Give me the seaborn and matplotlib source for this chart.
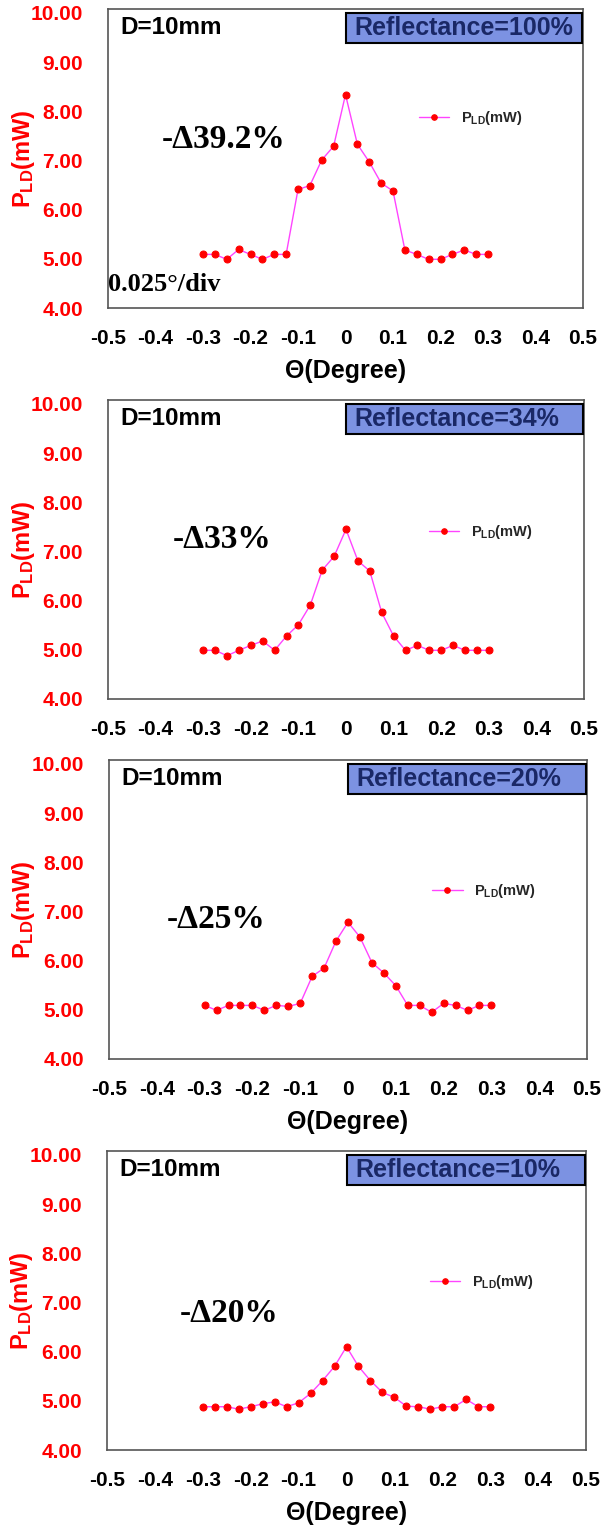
import matplotlib
matplotlib.use("Agg")
import matplotlib.pyplot as plt
import seaborn as sns
import pandas as pd
from matplotlib.patches import Rectangle

# angle (degree), step 0.025 deg
theta = [-0.3, -0.275, -0.25, -0.225, -0.2, -0.175, -0.15, -0.125, -0.1, -0.075, -0.05, -0.025,
         0.0, 0.025, 0.05, 0.075, 0.1, 0.125, 0.15, 0.175, 0.2, 0.225, 0.25, 0.275, 0.3]

# P_LD (mW) for each reflectance
p_r100 = [5.09, 5.09, 4.99, 5.19, 5.09, 4.99, 5.09, 5.09, 6.41, 6.49, 7.01, 7.29,
          8.34, 7.33, 6.97, 6.54, 6.38, 5.18, 5.09, 4.99, 4.99, 5.09, 5.18, 5.09, 5.09]
p_r34 = [4.99, 4.99, 4.88, 4.99, 5.09, 5.18, 4.99, 5.28, 5.51, 5.91, 6.62, 6.90,
         7.45, 6.81, 6.60, 5.76, 5.28, 4.99, 5.09, 4.99, 4.99, 5.09, 4.99, 4.99, 4.99]
p_r20 = [5.09, 4.99, 5.09, 5.09, 5.09, 4.99, 5.09, 5.07, 5.13, 5.68, 5.85, 6.40,
         6.78, 6.48, 5.96, 5.75, 5.49, 5.09, 5.09, 4.95, 5.13, 5.09, 4.99, 5.09, 5.09]
p_r10 = [4.88, 4.88, 4.88, 4.83, 4.88, 4.94, 4.98, 4.88, 4.96, 5.15, 5.41, 5.70,
         6.10, 5.70, 5.41, 5.17, 5.07, 4.89, 4.88, 4.83, 4.88, 4.88, 5.03, 4.88, 4.88]

series = [p_r100, p_r34, p_r20, p_r10]
reflect_labels = ["Reflectance=100%", "Reflectance=34%", "Reflectance=20%", "Reflectance=10%"]
delta_labels = ["-\u039439.2%", "-\u039433%", "-\u039425%", "-\u039420%"]
x_ticks = [-0.5, -0.4, -0.3, -0.2, -0.1, 0, 0.1, 0.2, 0.3, 0.4, 0.5]
x_ticklabels = ["-0.5", "-0.4", "-0.3", "-0.2", "-0.1", "0", "0.1", "0.2", "0.3", "0.4", "0.5"]
y_ticks = [4, 5, 6, 7, 8, 9, 10]
y_ticklabels = ["4.00", "5.00", "6.00", "7.00", "8.00", "9.00", "10.00"]

sns.set_style("white")
plt.rcParams["font.family"] = ["Liberation Sans", "DejaVu Sans"]
plt.rcParams["font.weight"] = "bold"
plt.rcParams["mathtext.fontset"] = "custom"
plt.rcParams["mathtext.rm"] = "Liberation Sans:bold"
plt.rcParams["mathtext.bf"] = "Liberation Sans:bold"
plt.rcParams["mathtext.default"] = "bf"

W, H = 604, 1530
fig = plt.figure(figsize=(W / 100, H / 100), dpi=100)

# pixel boxes (left, top, right, bottom) of each panel
boxes = [(108, 9, 583, 308), (108, 400, 584, 699), (109, 760, 587, 1059), (107, 1151, 586, 1450)]
delta_pos = [(0.114, 0.562), (0.137, 0.532), (0.121, 0.468), (0.152, 0.458)]
legend_pos = [(0.654, 0.635), (0.674, 0.558), (0.676, 0.562), (0.674, 0.562)]
show_xlabel = [True, False, True, True]

for i, vals in enumerate(series):
    l, t, r, b = boxes[i]
    ax = fig.add_axes([l / W, 1 - b / H, (r - l) / W, (b - t) / H])
    df = pd.DataFrame({"theta": theta, "p": vals})
    sns.lineplot(data=df, x="theta", y="p", ax=ax, color="#ff44ff", linewidth=1.0,
                 marker="o", markersize=5, markerfacecolor="red", markeredgecolor="red",
                 label=r"P$_{LD}$(mW)")

    ax.set_xlim(-0.5, 0.5)
    ax.set_ylim(4, 10.08)
    ax.set_xticks(x_ticks)
    ax.set_xticklabels(x_ticklabels, fontsize=15, fontweight="bold", color="black")
    ax.set_yticks(y_ticks)
    ax.set_yticklabels(y_ticklabels, fontsize=15, fontweight="bold", color="red")
    ax.tick_params(axis="x", direction="in", length=5, width=1, color="#555555", pad=15)
    ax.tick_params(axis="y", direction="in", length=5, width=1, color="#555555", pad=18)
    for sp in ax.spines.values():
        sp.set_color("#555555")
        sp.set_linewidth(1.2)

    ax.set_ylabel(r"P$_{LD}$(mW)", fontsize=17, fontweight="bold", color="red")
    ax.yaxis.set_label_coords(-0.15, 0.5)
    if show_xlabel[i]:
        ax.set_xlabel("\u0398(Degree)", fontsize=18, fontweight="bold", color="black", labelpad=8)
    else:
        ax.set_xlabel("")

    ax.text(0.025, 0.937, "D=10mm", transform=ax.transAxes, fontsize=17.5,
            fontweight="bold", color="black", ha="left", va="center")

    ax.add_patch(Rectangle((0.5, 0.885), 0.497, 0.1, transform=ax.transAxes,
                           facecolor="#7c92e2", edgecolor="black", linewidth=1.5, zorder=3))
    ax.text(0.518, 0.935, reflect_labels[i], transform=ax.transAxes, fontsize=18,
            fontweight="bold", color="#1a2866", ha="left", va="center", zorder=4)

    dx, dy = delta_pos[i]
    ax.text(dx, dy, delta_labels[i], transform=ax.transAxes, fontsize=24,
            fontweight="bold", family=["Liberation Serif", "DejaVu Serif"],
            ha="left", va="center", color="black")

    if i == 0:
        ax.text(0.0, 0.077, "0.025\u00b0/div", transform=ax.transAxes, fontsize=19,
                fontweight="bold", family=["Liberation Serif", "DejaVu Serif"],
                ha="left", va="center", color="black")

    lx, ly = legend_pos[i]
    ax.legend(loc="center left", bbox_to_anchor=(lx, ly), frameon=False, fontsize=10.5,
              handlelength=2.1, borderpad=0, borderaxespad=0, handletextpad=0.8,
              markerscale=0.8)

fig.savefig("out.png", dpi=100)
